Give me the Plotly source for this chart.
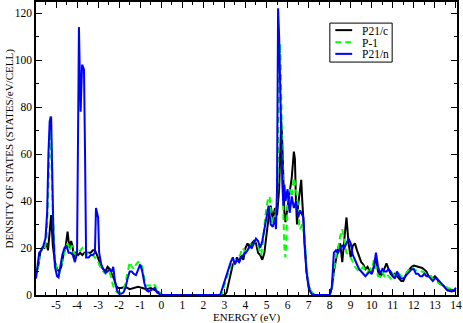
import plotly.graph_objects as go

# P21/c (black)
energy_c = [-5.95, -5.85, -5.75, -5.65, -5.55, -5.45, -5.38, -5.31, -5.23, -5.15, -5.05, -4.95, -4.85, -4.75,
            -4.65, -4.55, -4.45, -4.4, -4.35, -4.28, -4.22, -4.15, -4.05, -3.95, -3.85, -3.75, -3.65, -3.55,
            -3.45, -3.35, -3.25, -3.15, -3.05, -2.95, -2.85, -2.75, -2.65, -2.55, -2.45, -2.35, -2.25, -2.15,
            -2.05, -1.9, -1.7, -1.5, -1.3, -1.1, -0.9, -0.7, -0.5, -0.3, -0.1, 0.0, 3.0, 3.1, 3.2, 3.3, 3.4,
            3.5, 3.6, 3.7, 3.8, 3.9, 4.0, 4.1, 4.2, 4.3, 4.4, 4.5, 4.6, 4.7, 4.8, 4.9, 5.0, 5.1, 5.2, 5.3,
            5.4, 5.5, 5.6, 5.65, 5.7, 5.75, 5.8, 5.85, 5.9, 6.0, 6.1, 6.2, 6.3, 6.35, 6.4, 6.45, 6.5, 6.6,
            6.65, 6.7, 6.8, 6.9, 7.0, 7.1, 7.2, 7.3, 8.0, 8.1, 8.2, 8.3, 8.4, 8.5, 8.6, 8.7, 8.8, 8.9, 9.0,
            9.1, 9.2, 9.3, 9.4, 9.5, 9.6, 9.7, 9.8, 9.9, 10.0, 10.1, 10.2, 10.3, 10.4, 10.5, 10.6, 10.7,
            10.8, 10.9, 11.0, 11.1, 11.2, 11.3, 11.4, 11.5, 11.6, 11.7, 11.8, 11.9, 12.0, 12.2, 12.4, 12.6,
            12.7, 12.8, 12.9, 13.0, 13.1, 13.2, 13.4, 13.6, 13.8, 14.0]
dos_c = [9, 12, 18, 20, 20, 22, 19, 28, 34, 21, 14, 11, 10, 12,
         17, 20, 27, 23, 20, 23, 21, 16, 18, 17, 18, 17, 18, 18,
         18, 18, 19, 19, 17, 14, 12, 11, 10, 12, 11, 9, 7, 4,
         3, 3, 3.5, 2.5, 3, 3.5, 3, 2.5, 3, 2, 1, 0, 0, 1, 5, 10, 13,
         14, 16, 14, 17, 15, 20, 22, 20, 22, 23, 22, 18, 17, 15, 18, 27, 33, 38, 32,
         37, 34, 45, 60, 74, 65, 45, 35, 31, 38, 45, 50, 61, 58, 40, 30, 38, 45,
         49, 40, 22, 10, 4, 1.5, 0.5, 0, 0, 3, 10, 15, 20, 22, 14, 24, 33, 22, 16,
         21, 22, 19, 16, 14, 13, 11, 12, 10, 9, 12, 15, 10, 8, 9, 11, 13.5,
         11, 9, 8, 9, 8, 7, 6, 6, 8, 10, 11, 12, 12.5, 12, 11.5, 10,
         8, 8, 7, 8, 7, 5, 4, 2, 1.5, 2]

# P-1 (green dashed)
energy_p1 = [-5.95, -5.85, -5.75, -5.65, -5.55, -5.45, -5.38, -5.31, -5.27, -5.23, -5.15, -5.05, -4.95, -4.85,
             -4.75, -4.65, -4.55, -4.45, -4.35, -4.25, -4.15, -4.05, -3.95, -3.85, -3.75, -3.65, -3.55, -3.45,
             -3.35, -3.25, -3.15, -3.05, -2.95, -2.85, -2.75, -2.65, -2.55, -2.45, -2.35, -2.25, -2.15, -2.05,
             -1.95, -1.8, -1.7, -1.6, -1.5, -1.4, -1.3, -1.2, -1.1, -1.0, -0.9, -0.8, -0.7, -0.6, -0.5, -0.4,
             -0.3, -0.2, -0.1, 0.0, 0.1, 2.85, 2.95, 3.05, 3.15, 3.25, 3.35, 3.45, 3.55, 3.65, 3.75, 3.85,
             3.95, 4.05, 4.15, 4.25, 4.35, 4.45, 4.55, 4.65, 4.75, 4.85, 4.95, 5.05, 5.15, 5.25, 5.35, 5.45,
             5.5, 5.55, 5.6, 5.65, 5.7, 5.75, 5.8, 5.85, 5.9, 5.95, 6.0, 6.1, 6.2, 6.3, 6.4, 6.5, 6.55, 6.6,
             6.7, 6.8, 6.9, 7.0, 7.1, 7.2, 7.3, 8.0, 8.1, 8.2, 8.3, 8.4, 8.5, 8.6, 8.7, 8.8, 8.9, 9.0, 9.1,
             9.2, 9.3, 9.4, 9.5, 9.6, 9.7, 9.8, 9.9, 10.0, 10.1, 10.2, 10.3, 10.4, 10.5, 10.6, 10.7, 10.8,
             10.9, 11.0, 11.1, 11.2, 11.3, 11.4, 11.5, 11.6, 11.7, 11.8, 11.9, 12.0, 12.2, 12.4, 12.6, 12.8,
             13.0, 13.2, 13.4, 13.6, 13.8, 14.0]
dos_p1 = [10, 12, 18, 20, 19, 24, 40, 70, 76, 60, 35, 15, 10, 9,
          13, 17, 20, 22, 19, 21, 18, 17, 18, 19, 20, 18, 17, 18,
          17, 17, 16, 15, 13, 11, 10, 9, 10, 10, 6, 3, 1.5, 1,
          1, 2, 5, 10, 14, 12, 11, 13, 14, 14, 12, 7, 4, 4, 4, 5,
          4, 2, 1, 0.5, 0, 0, 3, 6, 8, 11, 14, 13, 15, 16, 17, 20,
          19, 18, 19, 22, 21, 23, 22, 19, 17, 24, 34, 40, 42, 30, 33, 36,
          40, 60, 95, 107, 85, 55, 35, 20, 16, 25, 40, 45, 42, 50, 45, 38, 30, 28,
          30, 25, 12, 5, 2, 0.5, 0, 0, 2, 10, 17, 20, 25, 28, 22, 18, 17, 16, 14,
          12, 11, 10, 11, 12, 10, 9, 12, 10, 15, 12, 8, 8, 10, 8, 9, 8,
          7, 9, 8, 10, 9, 8, 8, 9, 10, 11, 12, 11, 10, 10, 9, 8,
          6, 5, 4, 3, 2.5, 3]

# P21/n (blue)
energy_n = [-5.95, -5.9, -5.8, -5.7, -5.6, -5.5, -5.42, -5.36, -5.3, -5.23, -5.18, -5.12, -5.05, -4.95, -4.88,
            -4.8, -4.7, -4.6, -4.5, -4.4, -4.3, -4.2, -4.1, -4.0, -3.96, -3.91, -3.87, -3.83, -3.76, -3.67,
            -3.62, -3.57, -3.45, -3.35, -3.25, -3.15, -3.1, -3.05, -3.0, -2.95, -2.85, -2.75, -2.65, -2.55,
            -2.45, -2.35, -2.28, -2.2, -2.1, -2.0, -1.9, -1.8, -1.7, -1.6, -1.5, -1.4, -1.3, -1.2, -1.1, -1.0,
            -0.9, -0.8, -0.7, -0.6, -0.5, -0.4, -0.3, -0.2, -0.1, 0.0, 2.8, 2.9, 3.0, 3.1, 3.2, 3.3, 3.4,
            3.5, 3.6, 3.7, 3.8, 3.9, 4.0, 4.1, 4.2, 4.3, 4.4, 4.5, 4.6, 4.7, 4.8, 4.9, 5.0, 5.1, 5.2, 5.3,
            5.4, 5.45, 5.5, 5.55, 5.6, 5.65, 5.7, 5.75, 5.8, 5.85, 5.9, 6.0, 6.1, 6.2, 6.3, 6.4, 6.5, 6.6,
            6.7, 6.75, 6.8, 6.9, 7.0, 7.1, 7.2, 8.0, 8.1, 8.2, 8.3, 8.4, 8.5, 8.6, 8.7, 8.8, 8.9, 9.0, 9.1,
            9.2, 9.3, 9.4, 9.5, 9.6, 9.7, 9.8, 9.9, 10.0, 10.1, 10.2, 10.3, 10.4, 10.5, 10.6, 10.7, 10.8,
            10.9, 11.0, 11.1, 11.2, 11.3, 11.4, 11.5, 11.6, 11.7, 11.8, 11.9, 12.0, 12.1, 12.2, 12.3, 12.4,
            12.5, 12.6, 12.7, 12.8, 12.9, 13.0, 13.1, 13.2, 13.3, 13.4, 13.5, 13.6, 13.7, 13.8, 13.9, 14.0]
dos_n = [7, 10, 18, 19, 21, 24, 35, 60, 74, 76, 50, 25, 12, 8, 7.5,
         12, 17, 20, 21, 18, 18, 17, 14, 18, 60, 114, 95, 78, 98, 96,
         60, 16, 16, 17, 17, 18, 37, 35, 33, 18, 13, 11, 9.5, 10,
         11, 10, 12, 6, 2, 0.5, 0.5, 1, 3, 7, 10, 10, 9, 8.5, 11, 13,
         10, 5, 2, 1.5, 2, 2.5, 3, 1, 0.5, 0, 0, 3, 6, 8, 11, 14, 16,
         13, 15, 14, 16, 17, 18, 19, 21, 20, 22, 24, 23, 20, 23, 28, 33, 38, 30, 29,
         33, 28, 45, 122, 110, 85, 60, 48, 38, 47, 40, 45, 35, 42, 37, 40, 33, 36,
         34, 33, 22, 10, 3, 1, 0, 0, 3, 18, 19, 18, 20, 21, 20, 22, 24, 22, 17,
         15, 13, 11, 10, 9, 8, 9, 10, 9, 12, 18, 12, 9, 11, 10, 10, 11,
         10, 8, 7, 10, 8, 7, 7, 8, 9, 10, 11, 11, 9, 9, 8, 8,
         9, 8, 8, 7, 6, 7, 7, 6, 5, 4, 3, 2, 2, 2, 2, 3]

names = ["P21/c", "P-1", "P21/n"]
colors = ["black", "#00ff00", "#0000ff"]
dashes = ["solid", "6px,4px", "solid"]

x_ticks = list(range(-5, 15))
y_ticks = [0, 20, 40, 60, 80, 100, 120]

serif = "Liberation Serif, Times New Roman, serif"

fig = go.Figure()
series = [(energy_c, dos_c), (energy_p1, dos_p1), (energy_n, dos_n)]
for (ex, dy), nm, col, ds in zip(series, names, colors, dashes):
    fig.add_trace(go.Scatter(x=ex, y=dy, mode="lines", name=nm,
                             line=dict(color=col, width=2, dash=ds)))

axis_common = dict(showgrid=False, zeroline=False, showline=True, linecolor="black", linewidth=1.5,
                   mirror="ticks", ticks="inside", ticklen=6, tickcolor="black", tickwidth=1,
                   automargin=False,
                   tickfont=dict(family=serif, size=11.5, color="black"))

fig.update_xaxes(range=[-5.95, 14.05], tickvals=x_ticks, ticktext=[str(v) for v in x_ticks],
                 minor=dict(dtick=0.5, tick0=0, ticks="inside", ticklen=3, tickcolor="black"),
                 ticklabelstandoff=-2,
                 **axis_common)
fig.update_yaxes(range=[0, 124.7], tickvals=y_ticks,
                 minor=dict(dtick=10, tick0=0, ticks="inside", ticklen=3, tickcolor="black"),
                 **axis_common)

# axis titles placed like the xmgrace ones
fig.add_annotation(xref="paper", yref="paper", x=0.5, y=-0.078, text="ENERGY (eV)", showarrow=False,
                   xanchor="center", yanchor="middle", height=11, borderpad=0,
                   font=dict(family=serif, size=11, color="black"))
fig.add_annotation(xref="paper", yref="paper", x=-0.062, y=0.5, text="DENSITY OF STATES (STATES/eV/CELL)",
                   showarrow=False, textangle=-90, xanchor="center", yanchor="middle",
                   font=dict(family=serif, size=11, color="black"))

# hand-made legend box like the xmgrace one
fig.add_shape(type="rect", xref="paper", yref="paper", x0=0.698, x1=0.846, y0=0.795, y1=0.928,
              line=dict(color="black", width=1), fillcolor="white", layer="above")
row_y = [0.904, 0.863, 0.823]
for ry, nm, col, ds in zip(row_y, names, colors, dashes):
    fig.add_shape(type="line", xref="paper", yref="paper", x0=0.711, x1=0.751, y0=ry, y1=ry,
                  line=dict(color=col, width=2, dash=ds), layer="above")
    fig.add_annotation(xref="paper", yref="paper", x=0.772, y=ry, text=nm, showarrow=False,
                       xanchor="left", yanchor="middle", height=11, borderpad=0,
                       font=dict(family=serif, size=11.5, color="black"))

fig.update_layout(
    width=463, height=323,
    margin=dict(l=36, r=6, t=2, b=28),
    plot_bgcolor="white", paper_bgcolor="white",
    showlegend=False,
)

# the page body has a default 8px margin; drop it so the figure sits at the corner
fig.write_html("out.html", config={"displayModeBar": False},
               post_script="document.body.style.margin='0';")
